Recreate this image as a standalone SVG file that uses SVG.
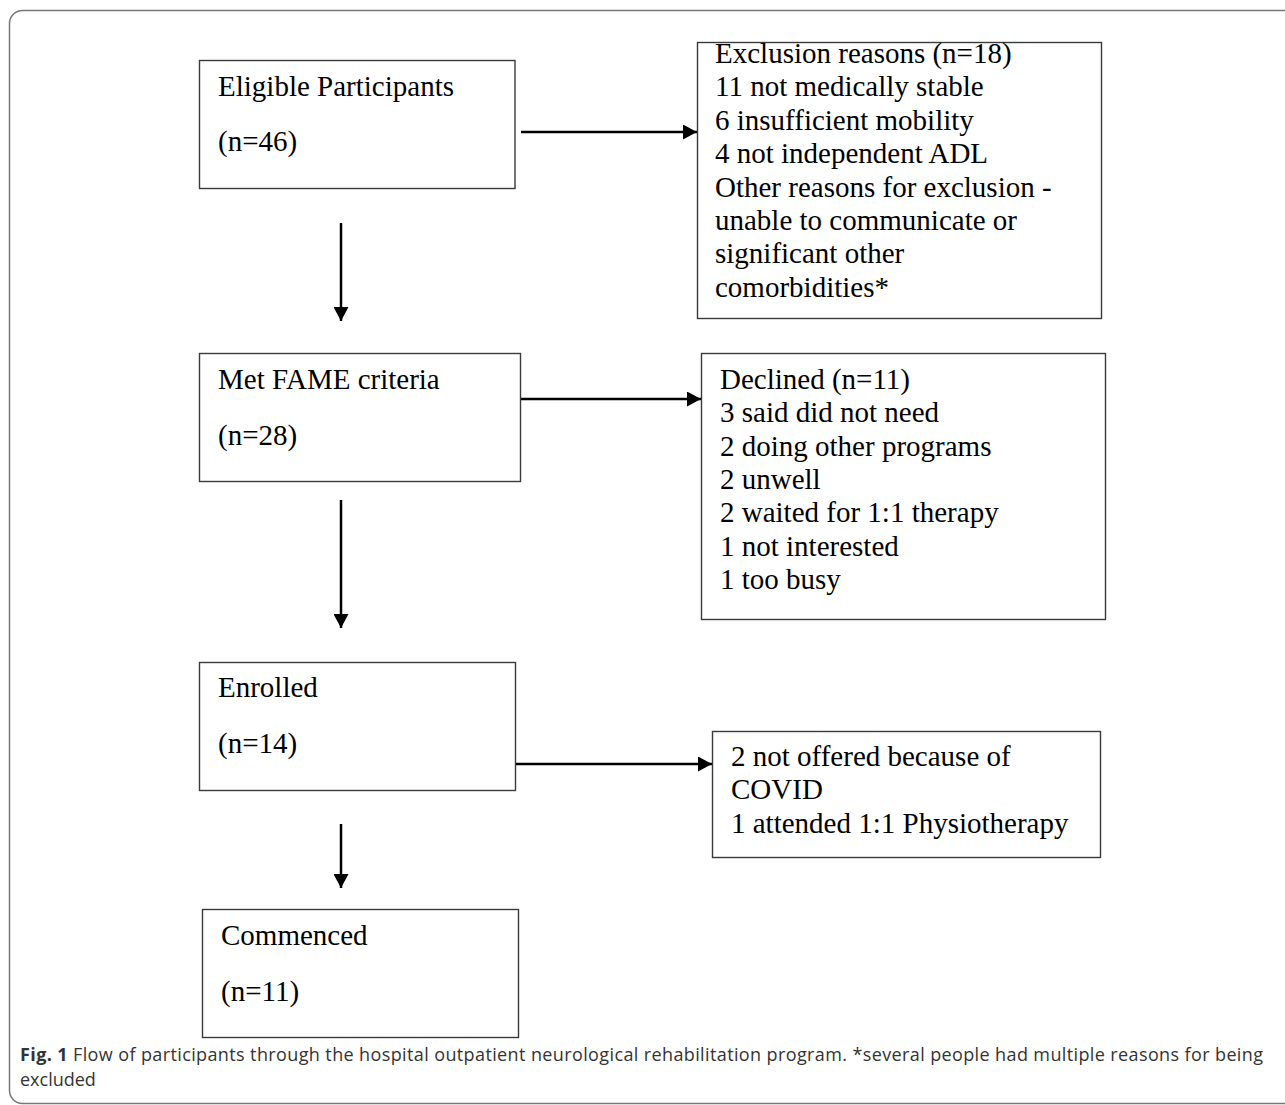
<svg xmlns="http://www.w3.org/2000/svg" width="1285" height="1105" viewBox="0 0 1285 1105">
<style>
.box{fill:#fff;stroke:#3a3a3a;stroke-width:1.4}
.t{font-family:"Liberation Serif","Times New Roman",serif;font-size:29px;fill:#000}
.c{font-family:"Open Sans","Liberation Sans",sans-serif;font-size:18px;fill:#333}
.ln{stroke:#000;stroke-width:2.5;fill:none;marker-end:url(#ah)}
</style>
<defs>
<marker id="ah" markerWidth="14" markerHeight="15" refX="14" refY="7.5" orient="auto" markerUnits="userSpaceOnUse">
<path d="M0,0 L14,7.5 L0,15 Z" fill="#000"/>
</marker>
</defs>
<rect x="9.5" y="10.5" width="1300" height="1093" rx="13" ry="13" fill="#fff" stroke="#777" stroke-width="1.5"/>
<g id="connectors">
<line class="ln" x1="521" y1="132" x2="697" y2="132"/>
<line class="ln" x1="521" y1="399" x2="701" y2="399"/>
<line class="ln" x1="515" y1="764" x2="712" y2="764"/>
<line class="ln" x1="341" y1="223" x2="341" y2="321"/>
<line class="ln" x1="341" y1="500" x2="341" y2="628"/>
<line class="ln" x1="341" y1="824" x2="341" y2="888"/>
</g>
<g id="eligible">
<rect class="box" x="199.5" y="60.5" width="315.5" height="128"/>
<text class="t" x="218" y="96">Eligible Participants</text>
<text class="t" x="218" y="151">(n=46)</text>
</g>
<g id="exclusion">
<rect class="box" x="697.5" y="42.5" width="404" height="276"/>
<text class="t" x="715" y="63">Exclusion reasons (n=18)</text>
<text class="t" x="715" y="96">11 not medically stable</text>
<text class="t" x="715" y="130">6 insufficient mobility</text>
<text class="t" x="715" y="163">4 not independent ADL</text>
<text class="t" x="715" y="197">Other reasons for exclusion -</text>
<text class="t" x="715" y="230">unable to communicate or</text>
<text class="t" x="715" y="263">significant other</text>
<text class="t" x="715" y="297">comorbidities*</text>
</g>
<g id="fame">
<rect class="box" x="199.5" y="353.5" width="321" height="128"/>
<text class="t" x="218" y="389">Met FAME criteria</text>
<text class="t" x="218" y="445">(n=28)</text>
</g>
<g id="declined">
<rect class="box" x="701.5" y="353.5" width="404" height="266"/>
<text class="t" x="720" y="389">Declined (n=11)</text>
<text class="t" x="720" y="422">3 said did not need</text>
<text class="t" x="720" y="455.5">2 doing other programs</text>
<text class="t" x="720" y="489">2 unwell</text>
<text class="t" x="720" y="522">2 waited for 1:1 therapy</text>
<text class="t" x="720" y="555.5">1 not interested</text>
<text class="t" x="720" y="589">1 too busy</text>
</g>
<g id="enrolled">
<rect class="box" x="199.5" y="662.5" width="316" height="128"/>
<text class="t" x="218" y="697">Enrolled</text>
<text class="t" x="218" y="753">(n=14)</text>
</g>
<g id="notcommenced">
<rect class="box" x="712.5" y="731.5" width="388" height="126"/>
<text class="t" x="731" y="766">2 not offered because of</text>
<text class="t" x="731" y="799">COVID</text>
<text class="t" x="731" y="833">1 attended 1:1 Physiotherapy</text>
</g>
<g id="commenced">
<rect class="box" x="202.5" y="909.5" width="316" height="128"/>
<text class="t" x="221" y="945">Commenced</text>
<text class="t" x="221" y="1001">(n=11)</text>
</g>
<g id="caption">
<text class="c" x="20" y="1061" textLength="1243" lengthAdjust="spacing"><tspan font-weight="bold">Fig. 1</tspan>  Flow of participants through the hospital outpatient neurological rehabilitation program. *several people had multiple reasons for being</text>
<text class="c" x="20" y="1086">excluded</text>
</g>
</svg>
